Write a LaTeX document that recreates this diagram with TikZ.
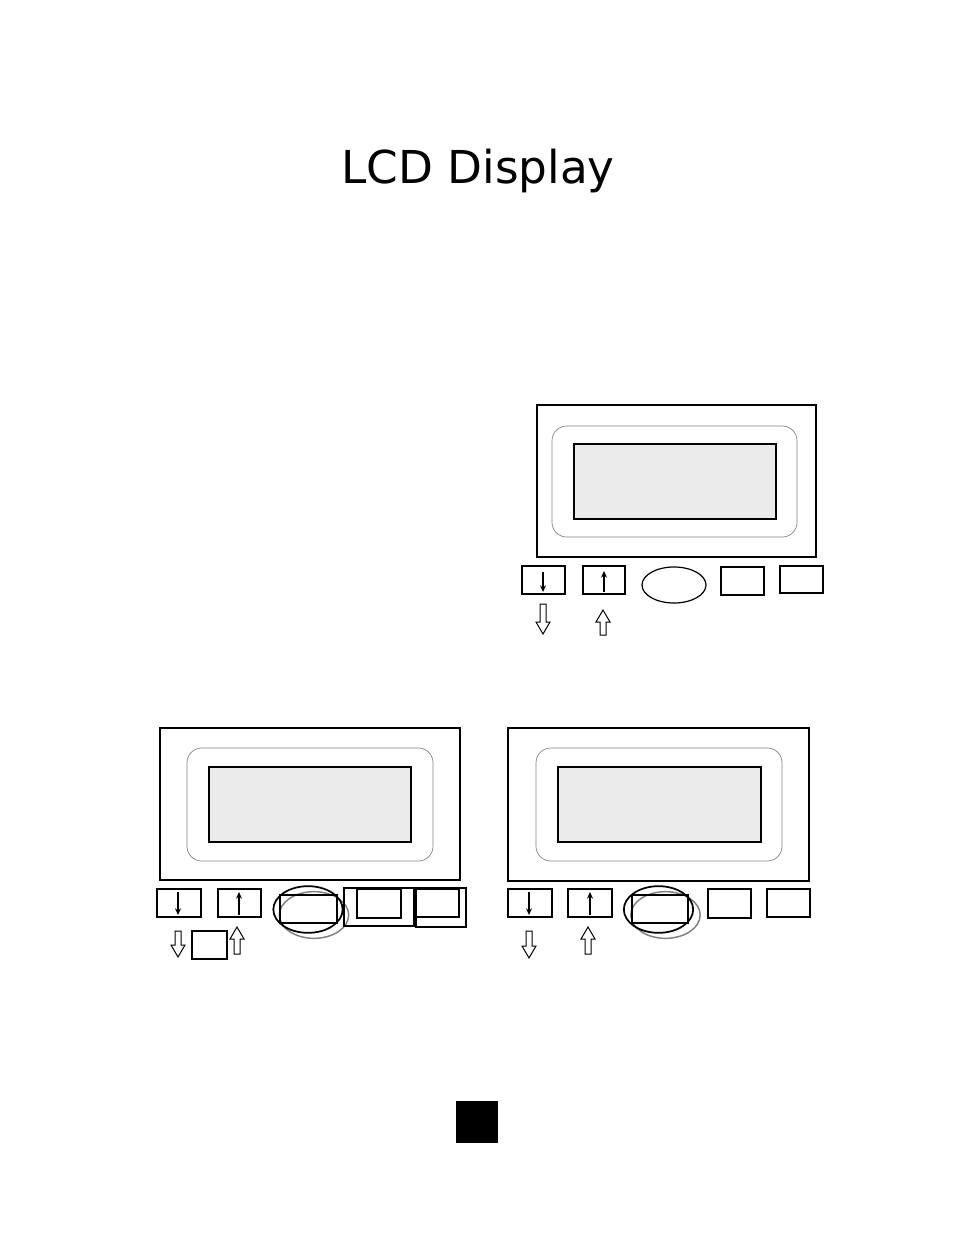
\documentclass[tikz,border=0pt]{standalone}
\usepackage{fontspec}
\setmainfont{DejaVu Sans}
\usetikzlibrary{arrows.meta}
\definecolor{lcdgray}{HTML}{EBEBEB}
\tikzset{
	frame/.style={draw, line width=1.5pt},
	bezel/.style={draw=gray, line width=0.5pt, rounded corners=11pt},
	screen/.style={draw, fill=lcdgray, line width=1.3pt},
	key/.style={draw, line width=0.9pt},
	halo/.style={draw=gray, line width=1.1pt},
	tick/.style={line width=1.9pt, -{Stealth[length=5pt,width=4.5pt]}},
	hollow/.style={draw, line width=0.75pt, fill=white}
}
\newcommand{\hollowdown}[3]{\draw[hollow] (#1-3,#2) -- (#1+3,#2) -- (#1+3,#3-12) -- (#1+7,#3-12) -- (#1,#3) -- (#1-7,#3-12) -- (#1-3,#3-12) -- cycle;}
\newcommand{\hollowup}[3]{\draw[hollow] (#1-3,#3) -- (#1+3,#3) -- (#1+3,#2+12) -- (#1+7,#2+12) -- (#1,#2) -- (#1-7,#2+12) -- (#1-3,#2+12) -- cycle;}
\begin{document}
\begin{tikzpicture}[x=0.75pt, y=-0.75pt]
	\useasboundingbox[fill=white] (0,0) rectangle (954,1235);
	\node[font=\fontsize{34}{40}\selectfont, anchor=base, inner sep=0pt] (title) at (478,183) {LCD Display};
	\draw[frame] (537,405) rectangle (816,557);
	\draw[bezel] (552,426) rectangle (797,537);
	\draw[screen] (574,444) rectangle (776,519);
	\draw[key] (522,566) rectangle (565,594);
	\draw[key] (583,566) rectangle (625,594);
	\draw[key] (674,585) ellipse (24pt and 13.5pt);
	\draw[key] (721,567) rectangle (764,595);
	\draw[key] (780,566) rectangle (823,593);
	\draw[tick] (543,572) -- (543,592);
	\draw[tick] (604,592) -- (604,571);
	\hollowdown{543}{604}{634}
	\hollowup{603}{610}{635}
	\draw[frame] (160,728) rectangle (460,880);
	\draw[bezel] (187,748) rectangle (433,861);
	\draw[screen] (209,767) rectangle (411,842);
	\draw[key] (157,889) rectangle (201,917);
	\draw[key] (218,889) rectangle (261,917);
	\draw[halo] (314,915) ellipse (26pt and 17.5pt);
	\draw[key, line width=1.3pt] (308,909.5) ellipse (26pt and 17.5pt);
	\draw[key] (280,895) rectangle (337,923);
	\draw[key] (357,889) rectangle (401,918);
	\draw[key] (344,888) rectangle (414,926);
	\draw[key] (416,889) rectangle (459,917);
	\draw[key] (416,888) rectangle (466,927);
	\draw[tick] (178,892) -- (178,915);
	\draw[tick] (239,915) -- (239,892);
	\hollowdown{178}{931}{957}
	\draw[key] (192,931) rectangle (227,959);
	\hollowup{237}{927}{954}
	\draw[frame] (508,728) rectangle (809,881);
	\draw[bezel] (536,748) rectangle (782,861);
	\draw[screen] (558,767) rectangle (761,842);
	\draw[key] (508,889) rectangle (552,917);
	\draw[key] (568,889) rectangle (612,917);
	\draw[halo] (665.5,915) ellipse (26pt and 17.5pt);
	\draw[key, line width=1.3pt] (658.5,909.5) ellipse (26pt and 17.5pt);
	\draw[key] (632,895) rectangle (688,923);
	\draw[key] (708,889) rectangle (751,918);
	\draw[key] (767,889) rectangle (810,917);
	\draw[tick] (529,892) -- (529,915);
	\draw[tick] (590,915) -- (590,892);
	\hollowdown{529}{931}{958}
	\hollowup{588}{927}{954}
	\fill (456,1101) rectangle (498,1143);
\end{tikzpicture}
\end{document}
